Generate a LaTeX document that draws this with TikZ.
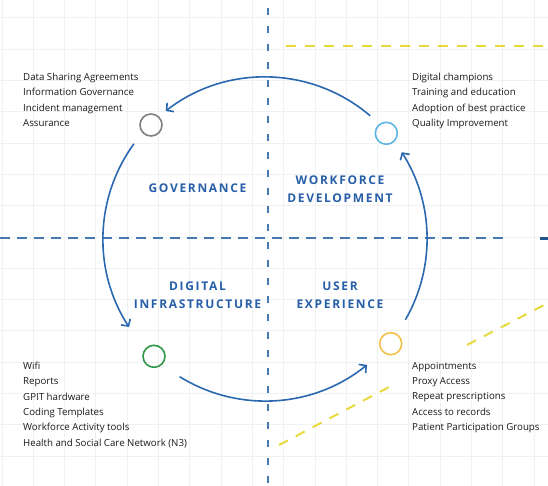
\documentclass[tikz,border=0pt]{standalone}
\usepackage{fontspec}
\setmainfont{Open Sans}
\newfontfamily\headfont[LetterSpace=14]{Open Sans}
\usetikzlibrary{arrows.meta}
\usetikzlibrary{calc}

\definecolor{arcblue}{RGB}{42,104,176}
\definecolor{headblue}{RGB}{38,94,168}
\definecolor{dashblue}{RGB}{72,120,178}
\definecolor{gridgray}{RGB}{240,241,243}
\definecolor{dashyellow}{RGB}{232,218,60}
\definecolor{ringgray}{RGB}{128,128,128}
\definecolor{ringcyan}{RGB}{92,182,226}
\definecolor{ringgreen}{RGB}{48,150,72}
\definecolor{ringorange}{RGB}{242,192,72}
\definecolor{listtext}{RGB}{25,25,25}

\tikzset{
  ring/.style={circle,draw=#1,line width=1.6bp,minimum size=22bp,inner sep=0pt},
  cyclearc/.style={draw=arcblue,line width=1.6bp,-{Straight Barb[length=5bp,width=11bp,line width=1.6bp]}},
  heading/.style={text=headblue,font=\headfont\bfseries\fontsize{12bp}{18bp}\selectfont,align=center},
  itemlist/.style={text=listtext,font=\fontsize{9.7bp}{15.3bp}\selectfont,align=left,anchor=north west,inner sep=0pt},
  axis/.style={draw=dashblue,line width=2bp},
  guide/.style={draw=dashyellow,line width=2bp,dash pattern=on 10bp off 9bp}
}

\begin{document}
\begin{tikzpicture}[x=1bp,y=1bp]
\useasboundingbox (0,0) rectangle (548,486);
\foreach \gx in {2,33.3,...,548} \draw[gridgray,line width=1bp] (\gx,0) -- (\gx,486);
\foreach \gy in {468,436.7,...,0} \draw[gridgray,line width=1bp] (0,\gy) -- (548,\gy);

\coordinate (vtop) at (267.5,478);
\coordinate (vbot) at (267.5,0);
\coordinate (hleft) at (0,247.5);
\coordinate (hright) at (503,247.5);
\coordinate (mark) at (540,247.5);
\coordinate (markend) at (548,247.5);
\draw[axis,dash pattern=on 7bp off 11bp] (vtop) -- (vbot);
\draw[axis,dash pattern=on 10bp off 7bp] (hleft) -- (hright);
\draw[draw=arcblue!80!black,line width=2.5bp] (mark) -- (markend);

\coordinate (ytop) at (286,439.5);
\coordinate (ytopend) at (548,439.5);
\coordinate (ylow) at (279,41);
\coordinate (ylowend) at (391,100);
\coordinate (yhigh) at (467,141);
\coordinate (yhighend) at (548,183);
\draw[guide] (ytop) -- (ytopend);
\draw[guide] (ylow) -- (ylowend);
\draw[guide] (yhigh) -- (yhighend);

\node[ring=ringgray] (gov) at (151,361) {};
\node[ring=ringcyan] (work) at (386.3,352.7) {};
\node[ring=ringgreen] (infra) at (154,129.7) {};
\node[ring=ringorange] (user) at (390.7,142.3) {};

\coordinate (hub) at (265,247);
\coordinate (topstart) at ($(hub)+(49.5:162)$);
\coordinate (leftstart) at ($(hub)+(144:162)$);
\coordinate (botstart) at ($(hub)+(238.2:162)$);
\coordinate (rightstart) at ($(hub)+(-29.9:162)$);
\draw[cyclearc] (topstart) arc[start angle=49.5,end angle=127.8,radius=162];
\draw[cyclearc] (leftstart) arc[start angle=144,end angle=212.9,radius=162];
\draw[cyclearc] (botstart) arc[start angle=238.2,end angle=309,radius=162];
\draw[cyclearc] (rightstart) arc[start angle=-29.9,end angle=32.4,radius=162];

\node[heading] (govlabel) at (197.5,298) {GOVERNANCE};
\node[heading] (worklabel) at (340,297) {WORKFORCE\\DEVELOPMENT};
\node[heading] (infralabel) at (197.5,191) {DIGITAL\\INFRASTRUCTURE};
\node[heading] (userlabel) at (340,191) {USER\\EXPERIENCE};

\node[itemlist] (govlist) at (23,413) {Data Sharing Agreements\\Information Governance\\Incident management\\Assurance};
\node[itemlist] (worklist) at (412,413) {Digital champions\\Training and education\\Adoption of best practice\\Quality Improvement};
\node[itemlist] (infralist) at (23,124) {Wifi\\Reports\\GPIT hardware\\Coding Templates\\Workforce Activity tools\\Health and Social Care Network (N3)};
\node[itemlist] (userlist) at (412,124) {Appointments\\Proxy Access\\Repeat prescriptions\\Access to records\\Patient Participation Groups};
\end{tikzpicture}
\end{document}
